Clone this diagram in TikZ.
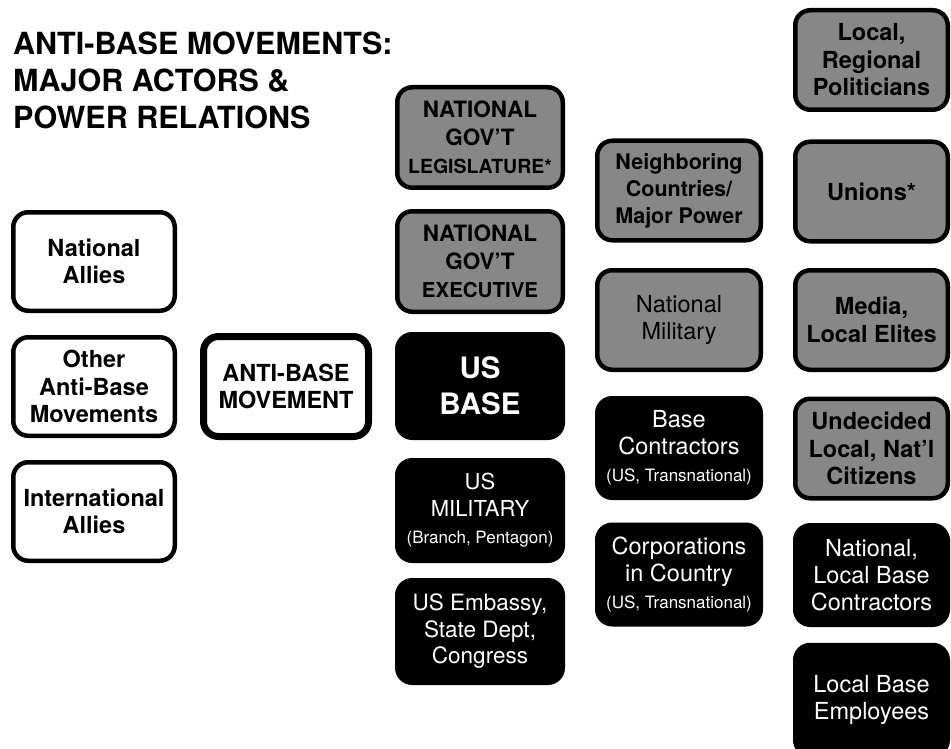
\documentclass[tikz,border=0pt]{standalone}
\usepackage{fontspec}
\setmainfont{TeX Gyre Heros}
\definecolor{boxgray}{RGB}{135,135,135}
\tikzset{
  actor/.style={draw=black, line width=4.5pt, rounded corners=15pt, inner sep=0pt, align=center},
  whitebox/.style={actor, fill=white, text=black, minimum width=161.5pt, minimum height=98.5pt,
    font=\bfseries\fontsize{23.5}{27.5}\selectfont},
  mainbox/.style={actor, line width=7pt, fill=white, text=black, minimum width=165pt, minimum height=100pt,
    font=\bfseries\fontsize{23.5}{27.5}\selectfont},
  graybox/.style={actor, fill=boxgray, text=black},
  blackbox/.style={actor, fill=black, text=white},
  colB/.style={minimum width=165.5pt, minimum height=100.5pt},
  colC/.style={minimum width=163.5pt, minimum height=99.5pt},
  colD/.style={minimum width=152.5pt, minimum height=99.5pt},
  boldtxt/.style={font=\bfseries\fontsize{23.5}{27.5}\selectfont},
  regtxt/.style={font=\fontsize{23.5}{27}\selectfont},
  titletxt/.style={font=\bfseries\fontsize{30.5}{36.5}\selectfont, anchor=base west, inner sep=0pt}
}
\newcommand\smalltxt{\fontsize{17}{19}\selectfont}
\begin{document}
\begin{tikzpicture}[x=1pt,y=-1pt]
\useasboundingbox[fill=white] (0,0) rectangle (951,749);

% title
\node[titletxt] (t1) at (13,55) {ANTI-BASE MOVEMENTS:};
\node[titletxt] (t2) at (13,92) {MAJOR ACTORS \&};
\node[titletxt] (t3) at (13,128.5) {POWER RELATIONS};

% column 1
\node[whitebox] (natallies) at (94,261.5) {National\\Allies};
\node[whitebox] (otheranti) at (94,386.5) {Other\\Anti-Base\\Movements};
\node[whitebox] (intallies) at (94,511.5) {International\\Allies};
\node[mainbox] (antibase) at (286,386.5) {ANTI-BASE\\MOVEMENT};

% column 2
\node[graybox, colB, font=\bfseries\fontsize{22.5}{28}\selectfont] (legis) at (480,137.5)
  {NATIONAL\\GOV'T\\{\fontsize{19.5}{26}\selectfont LEGISLATURE*}};
\node[graybox, colB, font=\bfseries\fontsize{22.5}{28}\selectfont] (exec) at (480,261.5)
  {NATIONAL\\GOV'T\\{\fontsize{20.5}{26}\selectfont EXECUTIVE}};
\node[blackbox, minimum width=165.5pt, minimum height=103.5pt, font=\bfseries\fontsize{29.5}{36}\selectfont] (usbase) at (480,386)
  {US\\BASE};
\node[blackbox, colB, font=\fontsize{22}{27}\selectfont] (usmil) at (480,510.5)
  {US\\MILITARY\\{\smalltxt (Branch, Pentagon)}};
\node[blackbox, minimum width=165.5pt, minimum height=102.5pt, font=\fontsize{22.5}{26.5}\selectfont] (embassy) at (480,631.5)
  {US Embassy,\\State Dept,\\Congress};

% column 3
\node[graybox, colC, font=\bfseries\fontsize{21.5}{27}\selectfont] (neigh) at (679,190.5)
  {Neighboring\\Countries/\\Major Power};
\node[graybox, colC, regtxt] (natmil) at (679,320)
  {National\\Military};
\node[blackbox, colC, regtxt] (basecon) at (679,448)
  {Base\\Contractors\\{\smalltxt (US, Transnational)}};
\node[blackbox, colC, regtxt] (corps) at (679,574.5)
  {Corporations\\in Country\\{\smalltxt (US, Transnational)}};

% column 4
\node[graybox, colD, boldtxt] (politicians) at (871.5,60)
  {Local,\\Regional\\Politicians};
\node[graybox, colD, boldtxt] (unions) at (871.5,191.5)
  {Unions*};
\node[graybox, colD, boldtxt] (media) at (871.5,320)
  {Media,\\Local Elites};
\node[graybox, colD, boldtxt] (undecided) at (871.5,448.5)
  {Undecided\\Local, Nat'l\\Citizens};
\node[blackbox, colD, regtxt] (natlocal) at (871.5,575)
  {National,\\Local Base\\Contractors};
\node[blackbox, minimum width=152.5pt, minimum height=110pt, regtxt] (employees) at (871.5,700)
  {Local Base\\Employees};
\end{tikzpicture}
\end{document}
